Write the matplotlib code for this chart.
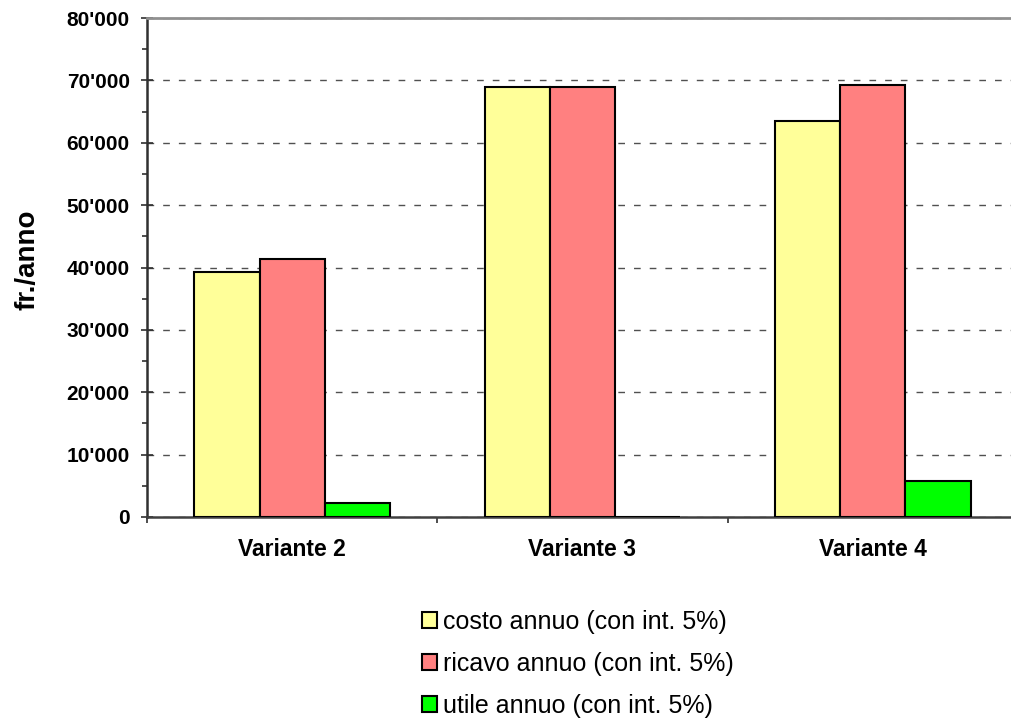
import numpy as np
import matplotlib
matplotlib.use("Agg")
import matplotlib.pyplot as plt
from matplotlib.ticker import FuncFormatter, MultipleLocator, FixedLocator

plt.rcParams['font.family'] = ['Liberation Sans', 'DejaVu Sans']

varianti = ["Variante 2", "Variante 3", "Variante 4"]
serie = ["costo annuo (con int. 5%)", "ricavo annuo (con int. 5%)", "utile annuo (con int. 5%)"]
costo = [39300, 68900, 63500]
ricavo = [41400, 68900, 69300]
utile = [2200, 0, 5800]
colori = ["#FFFF99", "#FF8080", "#00FF00"]

fig = plt.figure(figsize=(10.11, 7.2), dpi=100)
ax = fig.add_axes([147 / 1011, 203 / 720, 871 / 1011, 499 / 720])

x = np.arange(len(varianti)) + 0.5
w = 0.225
for k, (vals, col, lab) in enumerate(zip([costo, ricavo, utile], colori, serie)):
    ax.bar(x + (k - 1) * w, vals, w, color=col, edgecolor="black", linewidth=1.5,
           label=lab, zorder=3)

ax.set_xlim(0, 3)
ax.set_ylim(0, 80000)

ax.yaxis.set_major_locator(MultipleLocator(10000))
ax.yaxis.set_minor_locator(MultipleLocator(5000))
ax.yaxis.set_major_formatter(FuncFormatter(lambda v, p: f"{v:,.0f}".replace(",", "'")))
ax.tick_params(axis="y", which="major", direction="inout", length=9, width=1.2,
               pad=8, labelsize=15, color="#303030")
ax.tick_params(axis="y", which="minor", direction="out", length=3.6, width=1.2, color="#303030")
for t in ax.get_yticklabels():
    t.set_fontweight("bold")

ax.xaxis.set_major_locator(FixedLocator([0, 1, 2, 3]))
ax.xaxis.set_major_formatter(FuncFormatter(lambda v, p: ""))
ax.set_xticks(x, varianti, minor=True)
ax.tick_params(axis="x", which="major", direction="out", length=4.5, width=1.2, color="#303030")
ax.tick_params(axis="x", which="minor", length=0, pad=15, labelsize=16.5)
for t in ax.get_xticklabels(minor=True):
    t.set_fontweight("bold")

ax.yaxis.grid(True, which="major", linestyle=(0, (4.8, 6.5)), color="#505050", linewidth=1, zorder=0)
ax.spines["right"].set_visible(False)
ax.spines["top"].set_color("#909090")
ax.spines["top"].set_linewidth(2)
ax.spines["left"].set_color("#303030")
ax.spines["left"].set_linewidth(1.8)
ax.spines["bottom"].set_color("#404040")
ax.spines["bottom"].set_linewidth(1.8)

fig.text(28 / 1011, 1 - 260 / 720, "fr./anno", rotation=90, ha="center", va="center",
         fontsize=20, fontweight="bold")

ax.legend(loc="upper left", bbox_to_anchor=(399 / 1011, 1 - 587 / 720),
          bbox_transform=fig.transFigure, frameon=False, fontsize=18,
          handlelength=0.6, handleheight=0.6, handletextpad=0.25, labelspacing=0.72)

fig.savefig("out.png", dpi=100)
